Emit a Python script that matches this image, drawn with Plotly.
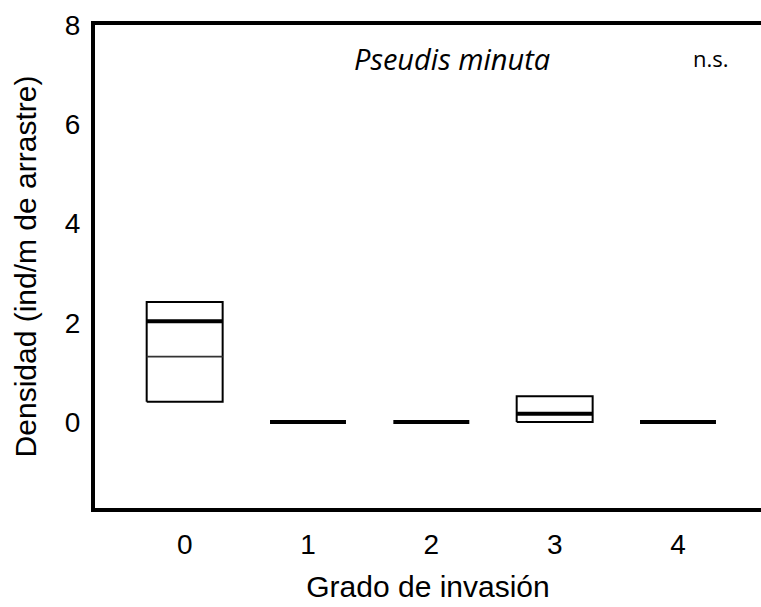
import plotly.graph_objects as go

# Grado de invasión categories and density summary per category
categories = [0, 1, 2, 3, 4]
q1 = [0.41, 0.0, 0.0, 0.0, 0.0]
q3 = [2.42, 0.0, 0.0, 0.52, 0.0]
median = [2.03, 0.0, 0.0, 0.17, 0.0]
mean = [1.32, None, None, None, None]

y_ticks = [0, 2, 4, 6, 8]
x_tick_labels = ["0", "1", "2", "3", "4"]

HALF = 0.308  # half box width in category units

box_x, box_y = [], []
med_x, med_y = [], []
mean_x, mean_y = [], []
for c, lo, hi, md, mn in zip(categories, q1, q3, median, mean):
    if hi > lo:
        box_x += [c - HALF, c + HALF, c + HALF, c - HALF, c - HALF, None]
        box_y += [lo, lo, hi, hi, lo, None]
    med_x += [c - HALF, c + HALF, None]
    med_y += [md, md, None]
    if mn is not None:
        mean_x += [c - HALF, c + HALF, None]
        mean_y += [mn, mn, None]

fig = go.Figure()
fig.add_trace(go.Scatter(x=box_x, y=box_y, mode="lines",
                         line=dict(color="black", width=2), hoverinfo="skip"))
fig.add_trace(go.Scatter(x=mean_x, y=mean_y, mode="lines",
                         line=dict(color="#333333", width=1.8), hoverinfo="skip"))
fig.add_trace(go.Scatter(x=med_x, y=med_y, mode="lines",
                         line=dict(color="black", width=4), hoverinfo="skip"))

L, R, T, B = 95, 0, 25, 99

fig.update_layout(
    width=761, height=607,
    margin=dict(l=L, r=R, t=T, b=B),
    paper_bgcolor="white", plot_bgcolor="white",
    showlegend=False,
    font=dict(family="Liberation Sans, Arial, sans-serif", color="black"),
    xaxis=dict(
        range=[-0.727, 4.673],
        tickmode="array", tickvals=categories, ticktext=x_tick_labels,
        tickfont=dict(size=28), ticklabelstandoff=8,
        showgrid=False, zeroline=False,
        showline=True, linecolor="black", linewidth=4, mirror=True,
        title=dict(text="Grado de invasión", font=dict(size=30), standoff=18),
        automargin=False,
    ),
    yaxis=dict(
        range=[-1.73, 8],
        tickmode="array", tickvals=y_ticks,
        tickfont=dict(size=28), ticklabelstandoff=5,
        showgrid=False, zeroline=False,
        showline=True, linecolor="black", linewidth=4,
        title=dict(text="Densidad (ind/m de arrastre)", font=dict(size=30), standoff=20),
        automargin=False,
    ),
)

# species name and significance label, placed by pixel position
plot_w = 761 - L - R
plot_h = 607 - T - B
labels = [
    ("<i>Pseudis minuta</i>", 452, 58, 29),
    ("n.s.", 711, 58, 22),
]
for text, px, py, size in labels:
    fig.add_annotation(
        text=text, x=(px - L) / plot_w, y=1 - (py - T) / plot_h,
        xref="paper", yref="paper", xanchor="center", yanchor="middle",
        showarrow=False, font=dict(family="Open Sans, sans-serif", size=size),
    )

fig.write_html("out.html")
